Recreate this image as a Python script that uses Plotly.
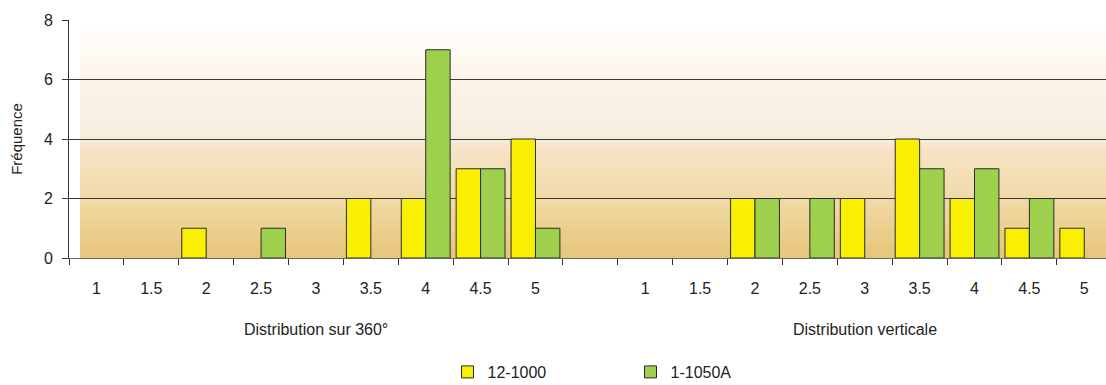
import plotly.graph_objects as go

# Wind-speed classes shown in each panel
classes = ["1", "1.5", "2", "2.5", "3", "3.5", "4", "4.5", "5"]
group_titles = ["Distribution sur 360°", "Distribution verticale"]
series_names = ["12-1000", "1-1050A"]

# Frequencies, panel 1 (360°) then panel 2 (vertical)
freq_12_1000_360 = [0, 0, 1, 0, 0, 2, 2, 3, 4]
freq_1_1050a_360 = [0, 0, 0, 1, 0, 0, 7, 3, 1]
freq_12_1000_vert = [0, 0, 2, 0, 2, 4, 2, 1, 1]
freq_1_1050a_vert = [0, 0, 2, 2, 0, 3, 3, 2, 0]

y_ticks = [0, 2, 4, 6, 8]

# Background gradient stops (fraction of height from bottom, colour)
bg_stops = [
    (0.00, (231, 197, 122)),
    (0.25, (240, 218, 166)),
    (0.47, (247, 228, 203)),
    (0.50, (245, 238, 222)),
    (0.75, (252, 244, 233)),
    (1.00, (255, 255, 255)),
]

# Categories: panel 1, a blank spacer, panel 2 (zero-width space keeps names unique)
spacer = " "
x_cats = classes + [spacer] + [c + "\u200b" for c in classes]

def with_gap(a, b):
    # empty classes get no bar at all
    return [v if v else None for v in a] + [None] + [v if v else None for v in b]

yellow_vals = with_gap(freq_12_1000_360, freq_12_1000_vert)
green_vals = with_gap(freq_1_1050a_360, freq_1_1050a_vert)

FONT = "Liberation Sans, Arial, sans-serif"
TXT = "#222"

fig = go.Figure()
fig.add_trace(go.Bar(
    x=x_cats, y=yellow_vals, name=series_names[0],
    marker=dict(color="#F8F000", line=dict(color="#2b2b2b", width=1)),
))
fig.add_trace(go.Bar(
    x=x_cats, y=green_vals, name=series_names[1],
    marker=dict(color="#9ED04E", line=dict(color="#2b2b2b", width=1)),
))

# Banded vertical gradient behind the bars
def interp(t):
    for (t0, c0), (t1, c1) in zip(bg_stops[:-1], bg_stops[1:]):
        if t0 <= t <= t1:
            f = (t - t0) / (t1 - t0) if t1 > t0 else 0
            return tuple(round(a + (b - a) * f) for a, b in zip(c0, c1))
    return bg_stops[-1][1]

n_bands = 60
ymax = y_ticks[-1]
step = ymax / n_bands
shapes = []
for i in range(n_bands):
    t = (i + 0.5) / n_bands
    r, g, b = interp(t)
    shapes.append(dict(
        type="rect", xref="paper", yref="y", layer="below",
        x0=11 / 1037, x1=1, y0=step * i, y1=min(ymax, step * (i + 1) + step * 0.6),
        fillcolor=f"rgb({r},{g},{b})", line=dict(width=0),
    ))

# Panel titles centred under each group of nine classes (category index 4 and 14)
n = len(classes)
annotations = [
    dict(x=(n - 1) / 2, y=-0.3025, xref="x", yref="paper", text=group_titles[0],
         showarrow=False, yanchor="middle", font=dict(size=16, color=TXT)),
    dict(x=n + 1 + (n - 1) / 2, y=-0.3025, xref="x", yref="paper", text=group_titles[1],
         showarrow=False, yanchor="middle", font=dict(size=16, color=TXT)),
]

fig.update_layout(
    width=1106, height=385,
    margin=dict(l=69, r=0, t=20, b=127, autoexpand=False),
    paper_bgcolor="white", plot_bgcolor="white",
    font=dict(family=FONT, size=16, color=TXT),
    barmode="group", bargap=0.11, bargroupgap=0,
    shapes=shapes, annotations=annotations,
    legend=dict(orientation="h", x=0.365, y=-0.479, xanchor="left", yanchor="middle",
                entrywidth=138, entrywidthmode="pixels",
                font=dict(size=16, color=TXT), itemclick=False),
    xaxis=dict(
        type="category", categoryorder="array", categoryarray=x_cats,
        range=[-0.5, 18.396], tickson="boundaries", ticks="outside",
        ticklen=6, tickcolor="#333", showgrid=False, showline=True,
        linecolor="#666", linewidth=1, tickfont=dict(size=16, color=TXT),
        ticklabelstandoff=16, automargin=False,
    ),
    yaxis=dict(
        range=[0, 8], tickvals=y_ticks, ticks="outside", ticklen=6,
        tickcolor="#333", showgrid=True, gridcolor="#3a3a3a", gridwidth=1,
        showline=True, linecolor="#333", linewidth=1, zeroline=False,
        title=dict(text="Fréquence", font=dict(size=15, color=TXT), standoff=17),
        tickfont=dict(size=16, color=TXT), ticklabelstandoff=6, automargin=False,
    ),
)

fig.write_html("out.html")
